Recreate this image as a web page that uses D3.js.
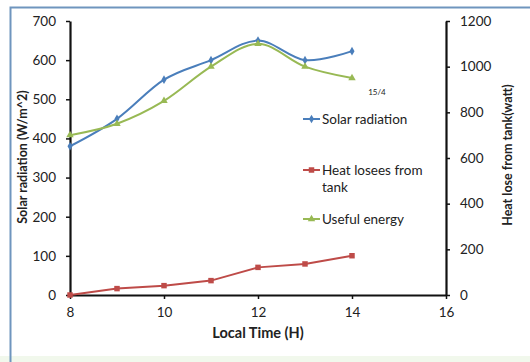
<!DOCTYPE html>
<html>
<head>
<meta charset="utf-8">
<script src="https://cdn.jsdelivr.net/npm/d3@7"></script>
<style>
body { margin: 0; background: #fff; }
svg text { font-family: Lato, "Open Sans", sans-serif; fill: #222; }
.tick text { font-size: 13.5px; }
.title { font-size: 12.5px; font-weight: bold; }
.legend text { font-size: 13.5px; }
</style>
</head>
<body>
<div id="chart"></div>
<script>
var W = 530, H = 362;

// data
var hours = [8, 9, 10, 11, 12, 13, 14];
var solar = [380, 450, 550, 600, 650, 600, 623];      // W/m^2, left axis
var heatLoss = [0, 28, 41, 63, 121, 136, 172];        // watt, right axis
var useful = [700, 750, 850, 1000, 1100, 1000, 950];  // watt, right axis
var xTicks = [8, 10, 12, 14, 16];
var leftTicks = [0, 100, 200, 300, 400, 500, 600, 700];
var rightTicks = [0, 200, 400, 600, 800, 1000, 1200];

var m = {left: 70, right: 446, top: 21, bottom: 295};

var svg = d3.select('#chart').append('svg')
    .attr('width', W).attr('height', H);

// frame
svg.append('rect').attr('x', 0).attr('y', 356).attr('width', W).attr('height', 6)
    .attr('fill', '#f1f8ec');
svg.append('path').attr('d', 'M10.5,362 V7.5 H530')
    .attr('fill', 'none').attr('stroke', '#6f95be').attr('stroke-width', 2);

var x = d3.scaleLinear().domain([8, 16]).range([m.left, m.right]);
var yL = d3.scaleLinear().domain([0, 700]).range([m.bottom, m.top]);
var yR = d3.scaleLinear().domain([0, 1200]).range([m.bottom, m.top]);

// axes
var gx = svg.append('g').attr('transform', 'translate(0,' + m.bottom + ')')
    .call(d3.axisBottom(x).tickValues(xTicks).tickSize(4).tickPadding(8).tickSizeOuter(0));
var gl = svg.append('g').attr('transform', 'translate(' + m.left + ',0)')
    .call(d3.axisLeft(yL).tickValues(leftTicks).tickSize(4).tickPadding(10).tickSizeOuter(0));
var gr = svg.append('g').attr('transform', 'translate(' + m.right + ',0)')
    .call(d3.axisRight(yR).tickValues(rightTicks).tickFormat(d3.format('d'))
        .tickSize(4).tickPadding(10).tickSizeOuter(0));
[gx, gl, gr].forEach(function (g) {
    g.select('.domain').attr('stroke', '#111').attr('stroke-width', 2.2);
    g.selectAll('.tick line').attr('stroke', '#111').attr('stroke-width', 1.5);
    g.selectAll('.tick text').attr('fill', '#222');
});

// titles
svg.append('text').attr('class', 'title')
    .attr('x', (m.left + m.right) / 2).attr('y', 338)
    .style('font-size', '14.5px')
    .attr('text-anchor', 'middle').text('Local Time (H)');
svg.append('text').attr('class', 'title')
    .attr('transform', 'translate(27,157) rotate(-90)')
    .attr('text-anchor', 'middle').text('Solar radiation (W/m^2)');
svg.append('text').attr('class', 'title')
    .attr('transform', 'translate(512,155) rotate(-90)')
    .attr('text-anchor', 'middle').text('Heat lose from tank(watt)');

svg.append('text').attr('x', 377).attr('y', 95)
    .attr('text-anchor', 'middle').style('font-size', '8px').text('15/4');

// series
var series = [
    {name: 'Solar radiation', vals: solar, y: yL, color: '#4a7ebb', sym: d3.symbolDiamond, size: 22, curve: d3.curveCardinal.tension(0)},
    {name: 'Heat losees from|tank', vals: heatLoss, y: yR, color: '#be4b48', sym: d3.symbolSquare, size: 30, curve: d3.curveLinear},
    {name: 'Useful energy', vals: useful, y: yR, color: '#98b954', sym: d3.symbolTriangle, size: 24, curve: d3.curveCardinal.tension(0)}
];

series.forEach(function (s) {
    var pts = hours.map(function (h, i) { return [x(h), s.y(s.vals[i])]; });
    svg.append('path')
        .attr('d', d3.line().curve(s.curve)(pts))
        .attr('fill', 'none').attr('stroke', s.color).attr('stroke-width', 2);
    svg.selectAll(null).data(pts).enter().append('path')
        .attr('transform', function (p) { return 'translate(' + p[0] + ',' + p[1] + ')'; })
        .attr('d', d3.symbol().type(s.sym).size(s.size))
        .attr('fill', s.color);
});

// legend
var legY = [119, 170, 219];
var leg = svg.append('g').attr('class', 'legend');
series.forEach(function (s, i) {
    var g = leg.append('g').attr('transform', 'translate(303,' + legY[i] + ')');
    g.append('line').attr('x1', 0).attr('x2', 17).attr('stroke', s.color).attr('stroke-width', 2);
    g.append('path').attr('transform', 'translate(8.5,0)')
        .attr('d', d3.symbol().type(s.sym).size(s.size)).attr('fill', s.color);
    var lines = s.name.split('|');
    lines.forEach(function (t, j) {
        g.append('text').attr('x', 19).attr('y', j * 17).attr('dy', '0.35em').text(t);
    });
});
</script>
</body>
</html>
